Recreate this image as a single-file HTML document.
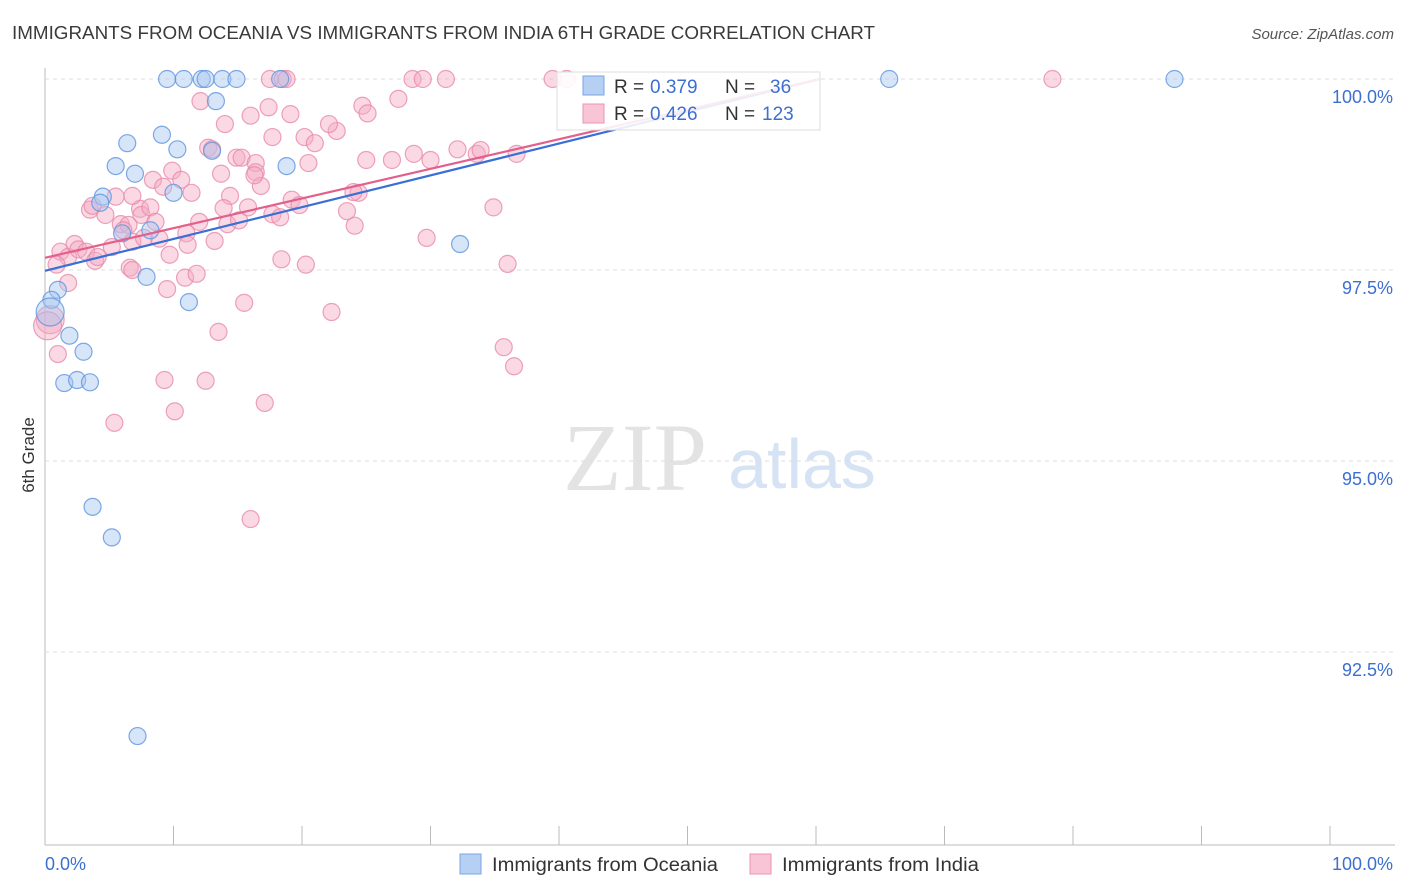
<!DOCTYPE html>
<html><head><meta charset="utf-8"><style>
body{margin:0;background:#fff;font-family:"Liberation Sans",sans-serif;}
svg{display:block}
</style></head><body>
<svg id="chart" width="1406" height="892">
<text x="12" y="39" font-size="18" fill="#3a3a3a" textLength="863" lengthAdjust="spacingAndGlyphs">IMMIGRANTS FROM OCEANIA VS IMMIGRANTS FROM INDIA 6TH GRADE CORRELATION CHART</text>
<text x="1394" y="39" font-size="15" fill="#555" text-anchor="end" font-style="italic">Source: ZipAtlas.com</text>
<g>
<text x="635" y="490" font-size="96" fill="#e3e3e3" text-anchor="middle" font-family="Liberation Serif,serif">ZIP</text>
<text x="802" y="488" font-size="70" fill="#d6e3f4" text-anchor="middle">atlas</text>
</g>
<g id="grid"></g>
<g id="marks"></g>
<text transform="translate(34,455) rotate(-90)" font-size="17" fill="#333" text-anchor="middle">6th Grade</text>
<g>
<rect x="557" y="72" width="263" height="58" fill="#fff" fill-opacity="0.88" stroke="#ddd"/>
<rect x="583" y="76" width="21" height="19" fill="#b5d0f2" stroke="#7aa5e3"/>
<rect x="583" y="104" width="21" height="19" fill="#f8c5d6" stroke="#eb93b2"/>
<text x="614" y="93" font-size="19" fill="#333">R =</text>
<text x="650" y="93" font-size="19" fill="#3c6fd0">0.379</text>
<text x="725" y="93" font-size="19" fill="#333">N =</text>
<text x="770" y="93" font-size="19" fill="#3c6fd0">36</text>
<text x="614" y="120" font-size="19" fill="#333">R =</text>
<text x="650" y="120" font-size="19" fill="#3c6fd0">0.426</text>
<text x="725" y="120" font-size="19" fill="#333">N =</text>
<text x="762" y="120" font-size="19" fill="#3c6fd0">123</text>
</g>
<g>
<rect x="460" y="854" width="21" height="20" fill="#b5d0f2" stroke="#7aa5e3"/>
<text x="492" y="871" font-size="19" fill="#333" textLength="226" lengthAdjust="spacingAndGlyphs">Immigrants from Oceania</text>
<rect x="750" y="854" width="21" height="20" fill="#f8c5d6" stroke="#eb93b2"/>
<text x="782" y="871" font-size="19" fill="#333" textLength="197" lengthAdjust="spacingAndGlyphs">Immigrants from India</text>
</g>
</svg>
<script>
const yTicks=[100,97.5,95,92.5];
const yTickLabels=["100.0%","97.5%","95.0%","92.5%"];
const xEndLabels=["0.0%","100.0%"];
const blueX=[9.5,10.8,12.2,12.5,13.8,14.9,18.3,65.7,87.9,13.3,9.1,10.3,13.0,6.4,5.5,7.0,18.8,10.0,4.5,4.3,6.0,8.2,32.3,7.9,11.2,1.0,0.5,0.4,1.9,3.0,1.5,2.5,3.5,3.7,5.2,7.2];
const blueY=[100,100,100,100,100,100,100,100,100,99.71,99.27,99.08,99.06,99.16,98.86,98.76,98.86,98.51,98.46,98.38,97.98,98.02,97.84,97.41,97.08,97.24,97.11,96.95,96.64,96.43,96.02,96.06,96.03,94.40,94.00,91.40];
const pinkX=[39.5,40.6,17.5,18.5,18.8,28.6,29.4,31.2,78.4,12.1,16.0,17.4,19.1,24.7,25.1,27.5,14.0,17.7,20.2,22.7,22.1,21.0,12.7,13.0,14.9,15.3,16.4,16.4,20.5,25.0,27.0,28.7,30.0,32.1,33.6,33.9,36.7,13.7,9.9,10.6,8.4,9.2,11.4,14.4,16.8,19.2,19.8,24.4,34.9,3.5,3.7,4.7,5.5,5.9,7.4,7.5,8.2,8.6,6.5,6.1,6.8,7.7,8.9,11.0,12.0,14.2,15.1,15.8,17.7,18.3,23.5,24.1,13.9,11.1,13.2,9.7,1.2,1.8,2.3,2.6,3.2,3.9,4.1,5.2,6.6,6.8,0.9,1.8,9.5,10.9,11.8,15.5,18.4,20.3,29.7,36.0,22.3,13.5,0.4,0.2,1.0,9.3,12.5,10.1,17.1,5.4,16.0,35.7,36.5,24.0,16.3,6.8];
const pinkY=[100,100,100,100,100,100,100,100,100,99.71,99.52,99.63,99.54,99.65,99.55,99.74,99.41,99.24,99.24,99.32,99.41,99.16,99.10,99.08,98.97,98.97,98.90,98.78,98.90,98.94,98.94,99.02,98.94,99.08,99.02,99.07,99.02,98.76,98.80,98.68,98.68,98.59,98.51,98.47,98.60,98.42,98.35,98.51,98.32,98.29,98.34,98.22,98.46,98.10,98.30,98.22,98.32,98.13,98.09,98.02,97.87,97.92,97.91,97.98,98.13,98.10,98.15,98.32,98.23,98.19,98.27,98.08,98.31,97.83,97.88,97.70,97.74,97.67,97.84,97.77,97.74,97.62,97.67,97.80,97.53,97.50,97.57,97.33,97.25,97.40,97.45,97.07,97.64,97.57,97.92,97.58,96.95,96.69,96.85,96.77,96.40,96.06,96.05,95.65,95.76,95.50,94.24,96.49,96.24,98.52,98.74,98.47];
const blueTrend=[97.49,100];
const pinkTrend=[97.66,100];
const trendEndX=60.3;

const NS="http://www.w3.org/2000/svg";
const X0=45,X1=1330,Y100=79,PX_PER=191/2.5;
function sx(v){return X0+(X1-X0)*v/100;}
function sy(v){return Y100+(100-v)*PX_PER;}
function mk(tag,attrs,parent){const e=document.createElementNS(NS,tag);for(const k in attrs)e.setAttribute(k,attrs[k]);parent.appendChild(e);return e;}
const grid=document.getElementById('grid'),marks=document.getElementById('marks');

const axisY=mk('line',{x1:X0,y1:68,x2:X0,y2:845,stroke:'#bbb'},grid);


const axisX=mk('line',{x1:X0,y1:845,x2:1395,y2:845,stroke:'#bbb'},grid);


for(let i=0;i<=10;i++){const t=mk('line',{x1:X0+i*128.5,y1:826,x2:X0+i*128.5,y2:845,stroke:'#bbb'},grid);

}
yTicks.forEach((v,i)=>{
 const g=mk('line',{x1:X0,y1:sy(v),x2:1395,y2:sy(v),stroke:'#ddd','stroke-dasharray':'4,4'},grid);
 
 
 const t=mk('text',{x:1393,y:sy(v)+24,'font-size':18,fill:'#3c6fd0','text-anchor':'end'},grid);
 t.textContent=yTickLabels[i];
 
 
});
const xl0=mk('text',{x:45,y:870,'font-size':18,fill:'#3c6fd0'},grid);xl0.textContent=xEndLabels[0];


const xl1=mk('text',{x:1393,y:870,'font-size':18,fill:'#3c6fd0','text-anchor':'end'},grid);xl1.textContent=xEndLabels[1];



function pts(xs,ys,fill,stroke,name){xs.forEach((x,i)=>{
 const big=(x<0.5&&ys[i]<97.2&&ys[i]>96.7);
 const c=mk('circle',{cx:sx(x),cy:sy(ys[i]),r:big?14:8.5,fill:fill,'fill-opacity':0.45,stroke:stroke,'stroke-width':1.2,'stroke-opacity':0.8},marks);
 
 
});}
pts(pinkX,pinkY,'#f4aac3','#e98aab','india-point');
pts(blueX,blueY,'#a6c6ef','#5f93df','oceania-point');
const bl=mk('line',{x1:sx(0),y1:sy(blueTrend[0]),x2:sx(trendEndX),y2:sy(blueTrend[1]),stroke:'#3a6fd6','stroke-width':2.2},marks);


const pl=mk('line',{x1:sx(0),y1:sy(pinkTrend[0]),x2:sx(trendEndX),y2:sy(pinkTrend[1]),stroke:'#e2608c','stroke-width':2.2},marks);


</script>
</body></html>
